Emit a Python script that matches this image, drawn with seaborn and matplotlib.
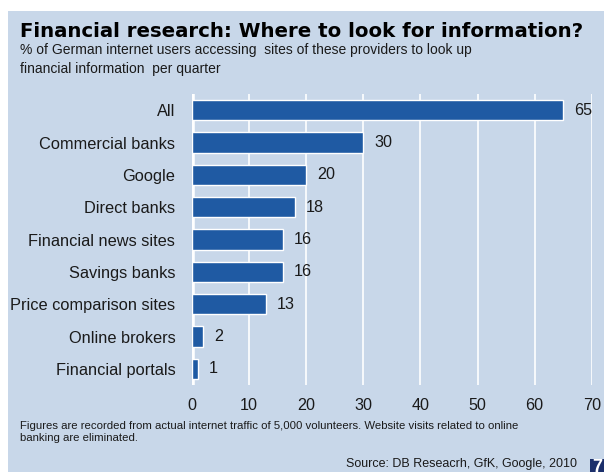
import matplotlib
matplotlib.use("Agg")
import matplotlib.pyplot as plt
from matplotlib.patches import Rectangle
import seaborn as sns
import pandas as pd

categories = ["All", "Commercial banks", "Google", "Direct banks", "Financial news sites",
              "Savings banks", "Price comparison sites", "Online brokers", "Financial portals"]
values = [65, 30, 20, 18, 16, 16, 13, 2, 1]
x_ticks = [0, 10, 20, 30, 40, 50, 60, 70]

title = "Financial research: Where to look for information?"
subtitle = ("% of German internet users accessing  sites of these providers to look up\n"
            "financial information  per quarter")
footnote = ("Figures are recorded from actual internet traffic of 5,000 volunteers. Website visits related to online\n"
            "banking are eliminated.")
source = "Source: DB Reseacrh, GfK, Google, 2010"

PANEL = "#C8D7E9"
BAR = "#1F5AA3"
TEXT = "#1a1a1a"

sns.set_theme(style="white")
plt.rcParams["font.family"] = ["Liberation Sans", "DejaVu Sans"]

W, H = 604, 472
fig = plt.figure(figsize=(W / 100, H / 100), dpi=100)
fig.patch.set_facecolor("white")

# light blue panel behind everything
fig.patches.append(Rectangle((8 / W, 0), 1 - 8 / W, (H - 11) / H, transform=fig.transFigure,
                             facecolor=PANEL, edgecolor="none", zorder=-2))
# page-number box in the corner
fig.patches.append(Rectangle((590 / W, 0), 14 / W, 13 / H, transform=fig.transFigure,
                             facecolor="#1B2F6B", edgecolor="none", zorder=-1))
fig.text(592 / W, -4 / H, "7", color="white", fontsize=13, fontweight="bold",
         ha="left", va="bottom", zorder=2)

left, right = 192 / W, 591.7 / W
top, bottom = 1 - 94 / H, 1 - 385 / H
ax = fig.add_axes([left, bottom, right - left, top - bottom], zorder=1)
ax.set_facecolor("none")

df = pd.DataFrame({"category": categories, "value": values})
sns.barplot(data=df, x="value", y="category", orient="h", color=BAR, width=0.62,
            saturation=1, ax=ax, zorder=3)

ax.set_xlim(0, 70)
ax.set_ylim(len(categories) - 0.5, -0.5)
ax.set_xticks(x_ticks)
ax.set_xticklabels([str(t) for t in x_ticks])
ax.grid(False)
for t in x_ticks:
    ax.axvline(t, color="white", lw=4 if t == 0 else 1.2, zorder=1)

for s in ax.spines.values():
    s.set_visible(False)
ax.tick_params(axis="x", length=0, pad=9, labelsize=11.6, labelcolor=TEXT)
ax.tick_params(axis="y", length=0, pad=12, labelsize=11.8, labelcolor=TEXT)
ax.set_xlabel("")
ax.set_ylabel("")

for i, v in enumerate(values):
    ax.text(v + 1.9, i, str(v), va="center", ha="left", fontsize=11.6, color=TEXT, zorder=4)

fig.text(20 / W, 1 - 37 / H, title, fontsize=14.2, fontweight="bold", color="black",
         family="DejaVu Sans", ha="left", va="baseline")
fig.text(20 / W, 1 - 43 / H, subtitle, fontsize=10, color=TEXT, ha="left", va="top",
         linespacing=1.5)
fig.text(20 / W, 1 - 421 / H, footnote, fontsize=8.2, color=TEXT, ha="left", va="top",
         linespacing=1.3)
fig.text(577 / W, 1 - 467 / H, source, fontsize=9, color=TEXT, ha="right", va="baseline")

fig.savefig("out.png", dpi=100, facecolor="white")
